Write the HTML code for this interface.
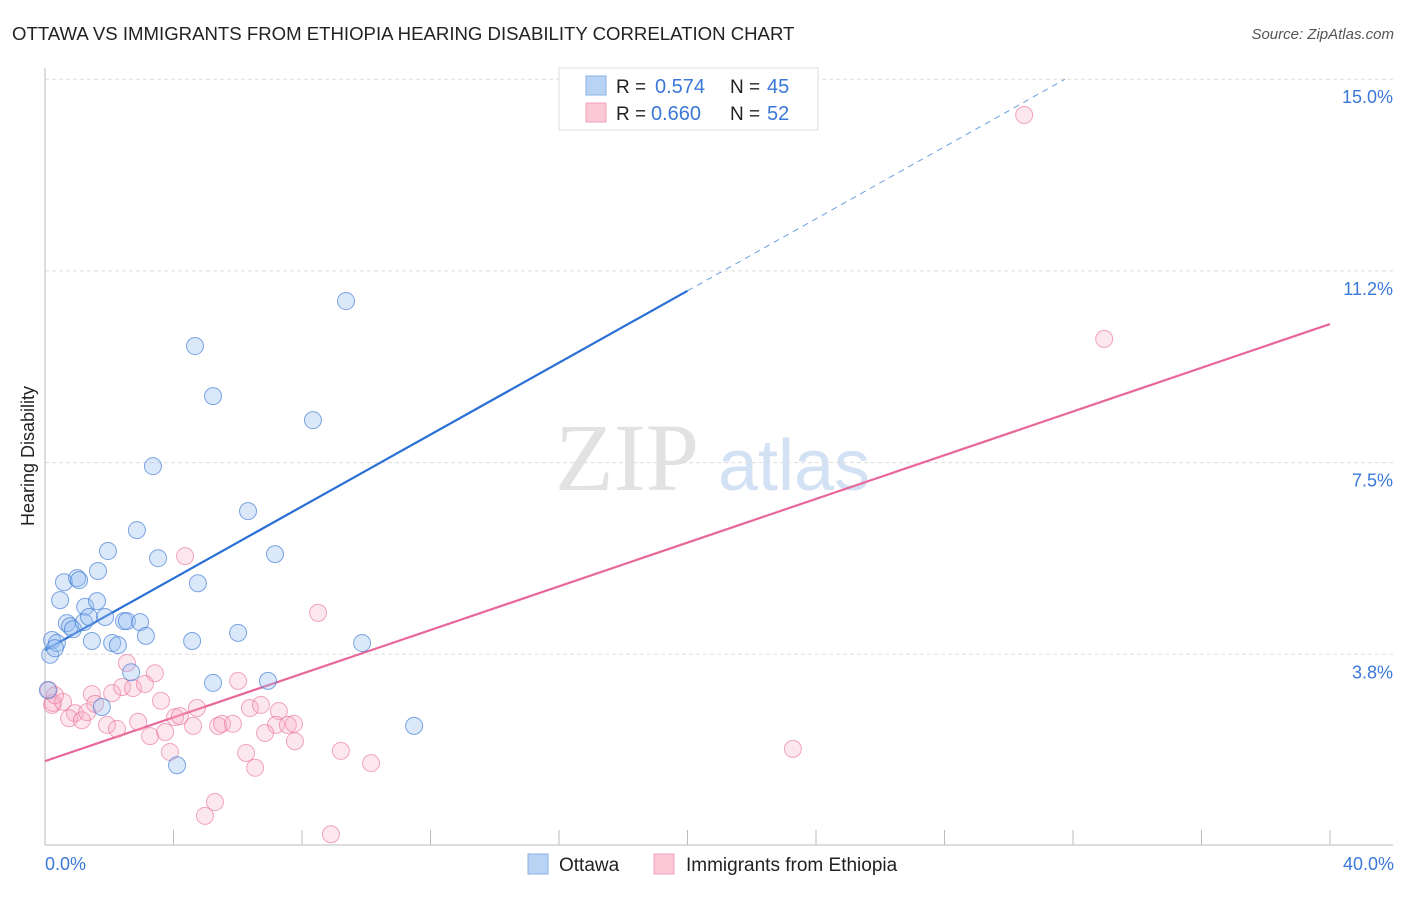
<!DOCTYPE html>
<html><head><meta charset="utf-8"><style>
body{margin:0;background:#fff;font-family:"Liberation Sans",sans-serif}
</style></head><body>
<svg width="1406" height="892" xmlns="http://www.w3.org/2000/svg">
<text x="12" y="40" font-size="18.6" fill="#222">OTTAWA VS IMMIGRANTS FROM ETHIOPIA HEARING DISABILITY CORRELATION CHART</text>
<text x="1394" y="39" font-size="15" fill="#555" font-style="italic" text-anchor="end">Source: ZipAtlas.com</text>
<text x="555" y="490" font-size="96" fill="#e2e2e2" font-family="Liberation Serif,serif">ZIP</text>
<text x="718" y="490" font-size="72" fill="#d3e1f4">atlas</text>
<g id="grid"></g>
<line x1="45" y1="68" x2="45" y2="845" stroke="#bbb"/>
<line x1="45" y1="845" x2="1393" y2="845" stroke="#bbb"/>
<text transform="translate(34,456) rotate(-90)" font-size="18" fill="#222" text-anchor="middle">Hearing Disability</text>
<text x="45" y="870" font-size="18" fill="#3b78d8">0.0%</text>
<text x="1394" y="870" font-size="18" fill="#3b78d8" text-anchor="end">40.0%</text>
<g id="lines"></g>
<g id="pts"></g>
<g>
<rect x="559" y="68" width="259" height="62" fill="#fff" stroke="#ddd"/>
<rect x="586" y="76" width="20" height="19" fill="#b9d3f5" stroke="#8ab0e6"/>
<rect x="586" y="103" width="20" height="19" fill="#fbc9d6" stroke="#f0a0b8"/>
<text x="616" y="93" font-size="19" fill="#222">R = <tspan x="655" fill="#3b78d8" font-size="20">0.574</tspan><tspan x="730">N = </tspan><tspan x="767" fill="#3b78d8" font-size="20">45</tspan></text>
<text x="616" y="120" font-size="19" fill="#222">R = <tspan x="651" fill="#3b78d8" font-size="20">0.660</tspan><tspan x="730">N = </tspan><tspan x="767" fill="#3b78d8" font-size="20">52</tspan></text>
</g>
<g>
<rect x="528" y="854" width="20" height="20" fill="#b9d3f5" stroke="#8ab0e6"/>
<text x="559" y="871" font-size="19" fill="#222">Ottawa</text>
<rect x="654" y="854" width="20" height="20" fill="#fbc9d6" stroke="#f0a0b8"/>
<text x="686" y="871" font-size="19" fill="#222">Immigrants from Ethiopia</text>
</g>
</svg>
<script>
const yTicks=[3.8,7.5,11.2,15.0];
const yTickVals=[3.75,7.5,11.25,15];
const xTickVals=[0,4,8,12,16,20,24,28,32,36,40];
const ottawaX=[0.16,0.22,0.37,0.47,0.59,0.68,0.78,0.87,1.00,1.06,1.25,1.21,1.37,1.46,1.62,1.65,1.87,1.96,2.09,2.27,2.46,2.55,2.68,2.96,2.86,3.14,3.36,3.52,4.11,4.58,4.67,4.76,5.23,5.23,6.01,6.32,6.94,7.16,8.34,9.37,9.87,11.49,1.77,0.09,0.31];
const ottawaY=[3.74,4.03,3.97,4.81,5.16,4.36,4.30,4.24,5.24,5.20,4.68,4.38,4.48,4.01,4.79,5.38,4.48,5.77,3.97,3.93,4.40,4.40,3.40,4.38,6.18,4.11,7.43,5.63,1.58,4.01,9.78,5.14,8.80,3.19,4.17,6.55,3.23,5.71,8.33,10.66,3.97,2.35,2.72,3.05,3.87];
const ethX=[4.36,8.50,30.48,32.97,23.28,0.12,0.22,2.55,3.42,6.01,1.46,2.09,2.40,2.74,3.11,3.61,0.25,0.56,0.93,0.75,1.15,1.31,1.56,1.93,2.24,2.90,3.27,3.74,4.05,4.20,4.73,4.61,5.39,5.51,5.85,6.38,6.72,7.28,7.19,7.56,7.75,6.85,7.78,3.89,6.26,6.54,9.21,10.15,5.29,4.98,8.90,0.31];
const ethY=[5.67,4.56,14.30,9.92,1.90,3.05,2.76,3.58,3.38,3.23,2.97,2.99,3.11,3.09,3.17,2.84,2.80,2.82,2.60,2.50,2.46,2.62,2.78,2.37,2.29,2.43,2.15,2.23,2.52,2.54,2.70,2.35,2.35,2.39,2.39,2.70,2.76,2.64,2.37,2.37,2.39,2.21,2.05,1.84,1.82,1.53,1.86,1.62,0.86,0.59,0.23,2.95];
const ottawaTrend=[[0,3.83],[20,10.86]];
const ottawaTrendExt=[[20,10.86],[31.75,15.0]];
const ethTrend=[[0,1.66],[40,10.21]];
const NS='http://www.w3.org/2000/svg';
const X=v=>45+v/40*1285;
const Y=v=>846-v/3.75*191.7;
function mk(tag,attrs,parent){const e=document.createElementNS(NS,tag);for(const k in attrs)e.setAttribute(k,attrs[k]);parent.appendChild(e);return e;}
const grid=document.getElementById('grid');
yTickVals.forEach((v,i)=>{
 const l=mk('line',{x1:45,x2:1393,y1:Y(v),y2:Y(v),stroke:'#ddd','stroke-dasharray':'4,3'},grid);
 
 
 const t=mk('text',{x:1393,y:Y(v)+24,'font-size':18,fill:'#3b78d8','text-anchor':'end'},grid);
 t.textContent=yTicks[i].toFixed(1)+'%';
 
 
});
xTickVals.forEach(v=>{
 const l=mk('line',{x1:X(v),x2:X(v),y1:830,y2:845,stroke:'#bbb'},grid);
 
 
});
const pts=document.getElementById('pts');
ethX.forEach((x,i)=>{
 const c=mk('circle',{cx:X(x),cy:Y(ethY[i]),r:8.5,fill:'rgba(248,170,195,0.28)',stroke:'rgba(232,110,150,0.6)','stroke-width':1},pts);
 
 
});
ottawaX.forEach((x,i)=>{
 const c=mk('circle',{cx:X(x),cy:Y(ottawaY[i]),r:8.5,fill:'rgba(150,190,240,0.35)',stroke:'rgba(60,120,210,0.65)','stroke-width':1},pts);
 
 
});
const lines=document.getElementById('lines');
let l1=mk('line',{x1:X(ottawaTrend[0][0]),y1:Y(ottawaTrend[0][1]),x2:X(ottawaTrend[1][0]),y2:Y(ottawaTrend[1][1]),stroke:'#2a6fd6','stroke-width':2.2},lines);


let l2=mk('line',{x1:X(ottawaTrendExt[0][0]),y1:Y(ottawaTrendExt[0][1]),x2:X(ottawaTrendExt[1][0]),y2:Y(ottawaTrendExt[1][1]),stroke:'#6a9ee0','stroke-width':1,'stroke-dasharray':'6,5'},lines);


let l3=mk('line',{x1:X(ethTrend[0][0]),y1:Y(ethTrend[0][1]),x2:X(ethTrend[1][0]),y2:Y(ethTrend[1][1]),stroke:'#e8679a','stroke-width':2.2},lines);


</script>
</body></html>
